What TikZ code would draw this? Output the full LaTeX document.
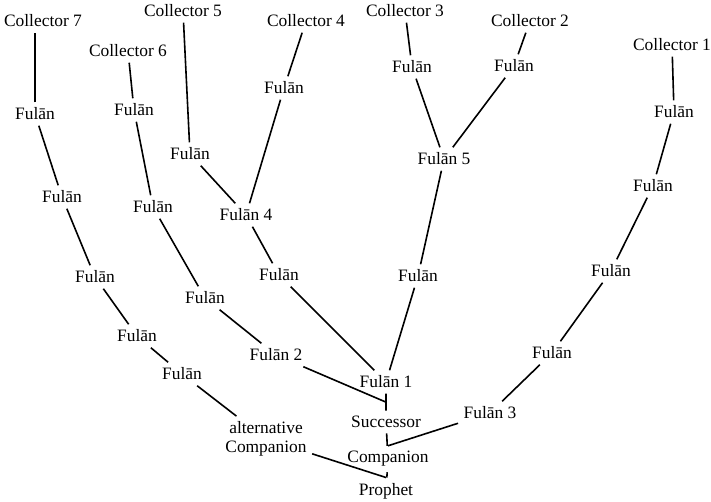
\documentclass[tikz,border=0pt]{standalone}
\usepackage{fontspec}
\setmainfont{Liberation Serif}
\usetikzlibrary{calc}
\begin{document}
\begin{tikzpicture}[x=0.5pt,y=-0.5pt,
  tx/.style={inner sep=2.6pt,align=center,font=\fontsize{8.7}{9.4}\selectfont},
  link/.style={line width=0.8pt}]
\useasboundingbox (0,0) rectangle (711,502);

% collectors
\node[tx] (c7) at (43,21) {Collector 7};
\node[tx] (c6) at (128,51) {Collector 6};
\node[tx] (c5) at (183,11) {Collector 5};
\node[tx] (c4) at (306,21) {Collector 4};
\node[tx] (c3) at (405,11) {Collector 3};
\node[tx] (c2) at (530,21) {Collector 2};
\node[tx] (c1) at (672,45) {Collector 1};

% chain of collector 7
\node[tx] (a1) at (35,114) {Fulān};
\node[tx] (a2) at (62,197) {Fulān};
\node[tx] (a3) at (95,277) {Fulān};
\node[tx] (a4) at (137,336) {Fulān};
\node[tx] (a5) at (182,374) {Fulān};
\node[tx] (alt) at (266,439) {alternative\\Companion};

% chain of collector 6
\node[tx] (b1) at (134,110) {Fulān};
\node[tx] (b2) at (153,207) {Fulān};
\node[tx] (b3) at (205,298) {Fulān};
\node[tx] (f2) at (276,355) {Fulān 2};

% collectors 5 and 4
\node[tx] (d1) at (190,154) {Fulān};
\node[tx] (e1) at (284,88) {Fulān};
\node[tx] (f4) at (246,215) {Fulān 4};
\node[tx] (g1) at (279,275) {Fulān};

% collectors 3 and 2
\node[tx] (h1) at (412,67) {Fulān};
\node[tx] (k1) at (514,66) {Fulān};
\node[tx] (f5) at (444,159) {Fulān 5};
\node[tx] (m1) at (418,276) {Fulān};

% collector 1
\node[tx] (r1) at (674,112) {Fulān};
\node[tx] (r2) at (653,186) {Fulān};
\node[tx] (r3) at (611,271) {Fulān};
\node[tx] (r4) at (552,353) {Fulān};
\node[tx] (f3) at (490,413) {Fulān 3};

% common link
\node[tx] (f1) at (386,382) {Fulān 1};
\node[tx] (succ) at (386,422) {Successor};
\node[tx] (comp) at (388,459) {Companion};
\node[tx] (prophet) at (386,491) {Prophet};

\coordinate (j1) at ($(f1.south)!0.5!(succ.north)$);
\coordinate (j2) at (comp.north);

\draw[link] (a1.north) -- (a1.north |- c7.south); % straight down
\draw[link] (a1) -- (a2) -- (a3) -- (a4) -- (a5) -- (alt);
\draw[link] (c6) -- (b1) -- (b2) -- (b3) -- (f2);
\draw[link] (c5) -- (d1) -- (f4);
\draw[link] (c4) -- (e1) -- (f4);
\draw[link] (f4) -- (g1) -- (f1);
\draw[link] (c3) -- (h1) -- (f5);
\draw[link] (c2) -- (k1) -- (f5);
\draw[link] (f5) -- (m1) -- (f1);
\draw[link] (c1) -- (r1) -- (r2) -- (r3) -- (r4) -- (f3);
\draw[link] (f1) -- (succ) -- (comp) -- (prophet);
\draw[link] (f2) -- (j1); % joins below Fulan 1
\draw[link] (f3) -- (j2);
\draw[link] (alt) -- (prophet.north);

\end{tikzpicture}
\end{document}
